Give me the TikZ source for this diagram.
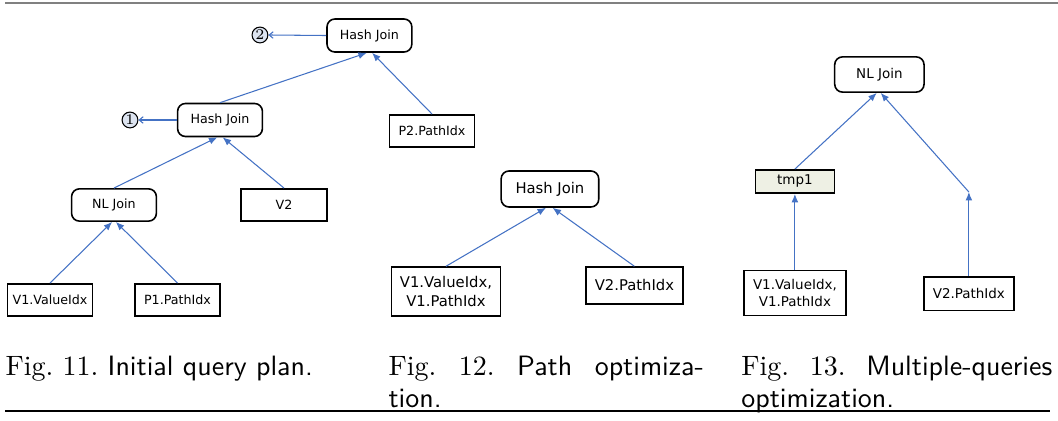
\documentclass[tikz,border=0pt]{standalone}
\usepackage{fontspec}
\usepackage{tikz}
\usetikzlibrary{arrows.meta}
\newfontfamily\diafont{DejaVu Sans}
\definecolor{arrowblue}{RGB}{68,114,196}
\definecolor{tmpfill}{RGB}{238,240,228}
\definecolor{tagfill}{RGB}{221,228,240}
\tikzset{
  plan/.style={draw, line width=0.6pt, inner sep=1pt, align=center},
  joinop/.style={plan, rounded corners=3pt},
  feed/.style={draw=arrowblue, line width=0.4pt, -{Latex[length=3.2pt,width=2.6pt]}},
  tagnum/.style={circle, draw, fill=tagfill, line width=0.4pt, inner sep=0pt,
    minimum size=6pt, font=\fontsize{5.6}{6}\selectfont},
  caption/.style={anchor=base west, inner sep=0pt, font=\fontsize{10.6}{12}\selectfont}
}
\newcommand{\figA}{\diafont\fontsize{4.8}{6}\selectfont}
\newcommand{\figB}{\diafont\fontsize{5.6}{7.2}\selectfont}
\newcommand{\figC}{\diafont\fontsize{5.1}{6.4}\selectfont}
\frenchspacing
\begin{document}
\begin{tikzpicture}
 \useasboundingbox (0,0) rectangle (14.09,5.606);
 \draw[gray, line width=0.8pt] (0.067,5.566) -- (14.09,5.566);
 \draw[line width=0.5pt] (0.067,0.133) -- (13.98,0.133);

 % Fig. 11: initial plan
 \node[joinop, minimum width=1.13cm, minimum height=0.44cm, font=\figA] (hjtop) at (4.920,5.133) {Hash Join};
 \node[tagnum] (tag2) at (3.462,5.140) {2};
 \node[joinop, minimum width=1.13cm, minimum height=0.44cm, font=\figA] (hjmid) at (2.930,4.008) {Hash Join};
 \node[tagnum] (tag1) at (1.731,4.008) {1};
 \node[plan, minimum width=1.13cm, minimum height=0.43cm, font=\figA] (ptwo) at (5.753,3.862) {P2.PathIdx};
 \node[joinop, minimum width=1.13cm, minimum height=0.43cm, font=\figA] (nljoin) at (1.518,2.876) {NL Join};
 \node[plan, minimum width=1.14cm, minimum height=0.43cm, font=\figA] (vtwo) at (3.782,2.876) {V2};
 \node[plan, minimum width=1.13cm, minimum height=0.43cm, font=\figA] (vone) at (0.666,1.611) {V1.ValueIdx};
 \node[plan, minimum width=1.13cm, minimum height=0.43cm, font=\figA] (pone) at (2.364,1.611) {P1.PathIdx};

 \draw[feed] (vone.north) -- ([xshift=-0.7pt]nljoin.south);
 \draw[feed] (pone.north) -- ([xshift=0.7pt]nljoin.south);
 \draw[feed] (nljoin.north) -- ([xshift=-1pt]hjmid.south);
 \draw[feed] (vtwo.north) -- ([xshift=1pt]hjmid.south);
 \draw[feed] (hjmid.north) -- ([xshift=-1pt]hjtop.south);
 \draw[feed] (ptwo.north) -- ([xshift=1pt]hjtop.south);
 \draw[arrowblue, line width=0.4pt, -{Straight Barb[length=1.5pt,width=2.5pt]}] (hjtop.west) -- (tag2.east);
 \draw[arrowblue, line width=0.4pt, -{Straight Barb[length=1.5pt,width=2.5pt]}] (hjmid.west) -- (tag1.east);

 % Fig. 12: path optimization
 \node[joinop, minimum width=1.30cm, minimum height=0.48cm, font=\figB] (pathhj) at (7.324,3.089) {Hash Join};
 \node[plan, minimum width=1.45cm, minimum height=0.65cm, font=\figB] (pathvone) at (5.939,1.724) {V1.ValueIdx,\\V1.PathIdx};
 \node[plan, minimum width=1.29cm, minimum height=0.49cm, font=\figB] (pathvtwo) at (8.449,1.804) {V2.PathIdx};
 \draw[feed] (pathvone.north) -- ([xshift=-1.5pt]pathhj.south);
 \draw[feed] (pathvtwo.north) -- ([xshift=1pt]pathhj.south);

 % Fig. 13: multiple queries
 \node[joinop, minimum width=1.19cm, minimum height=0.47cm, font=\figC] (multinl) at (11.711,4.614) {NL Join};
 \node[plan, fill=tmpfill, minimum width=1.05cm, minimum height=0.31cm, font=\figC] (tmp) at (10.586,3.189) {tmp1};
 \node[plan, minimum width=1.36cm, minimum height=0.60cm, font=\figC] (multivone) at (10.586,1.704) {V1.ValueIdx,\\V1.PathIdx};
 \node[plan, minimum width=1.20cm, minimum height=0.45cm, font=\figC] (multivtwo) at (12.903,1.695) {V2.PathIdx};
 \coordinate (bend) at (12.903,3.049);
 \draw[feed] (multivone.north) -- (tmp.south);
 \draw[feed] (multivtwo.north) -- (bend);
 \draw[feed] (tmp.north) -- ([xshift=-1pt]multinl.south);
 \draw[feed] (bend) -- ([xshift=0.5pt]multinl.south);

 % captions
 \node[caption] (capA) at (0.067,0.599) {\parbox[t]{4.17cm}{Fig.~11. \textsf{Initial query plan.}}};
 \node[caption] (capB) at (5.167,0.599) {\parbox[t]{4.20cm}{Fig.~12. \textsf{Path optimiza-\linebreak tion.}}};
 \node[caption] (capC) at (9.867,0.599) {\parbox[t]{4.14cm}{Fig.~13. \textsf{Multiple-queries\linebreak optimization.}}};
\end{tikzpicture}
\end{document}
